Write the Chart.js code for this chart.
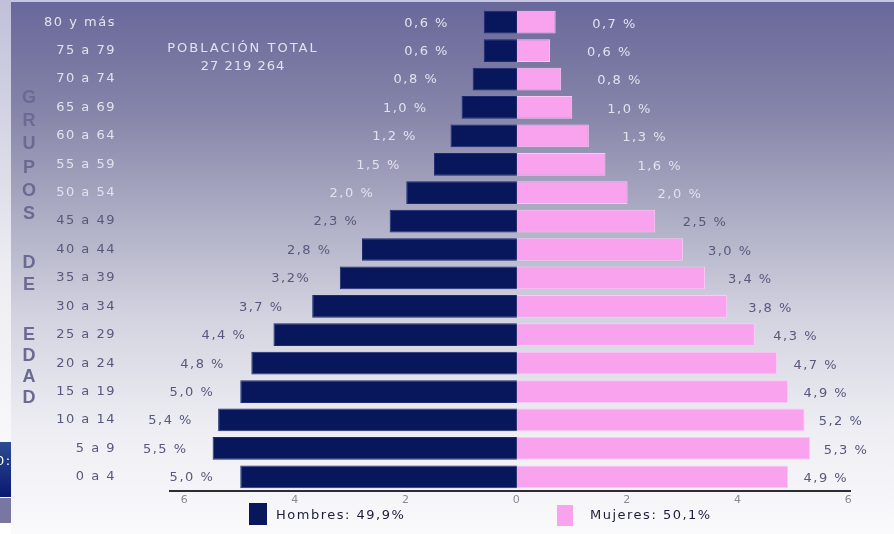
<!DOCTYPE html>
<html>
<head>
<meta charset="utf-8">
<script src="https://cdn.jsdelivr.net/npm/chart.js@4.4.1/dist/chart.umd.min.js"></script>
<style>
  html, body { margin: 0; padding: 0; background: #fff; }
  #wrap { position: relative; width: 894px; height: 534px; }
</style>
</head>
<body>
<div id="wrap"><canvas id="pyramid" width="894" height="534"></canvas></div>
<script>
// age groups, top to bottom
const ageGroups = [
  "80 y más", "75 a 79", "70 a 74", "65 a 69", "60 a 64", "55 a 59",
  "50 a 54", "45 a 49", "40 a 44", "35 a 39", "30 a 34", "25 a 29",
  "20 a 24", "15 a 19", "10 a 14", "5 a 9", "0 a 4"
];
// % of total population
const menValues = [0.6, 0.6, 0.8, 1.0, 1.2, 1.5, 2.0, 2.3, 2.8, 3.2, 3.7, 4.4, 4.8, 5.0, 5.4, 5.5, 5.0];
const womenValues = [0.7, 0.6, 0.8, 1.0, 1.3, 1.6, 2.0, 2.5, 3.0, 3.4, 3.8, 4.3, 4.7, 4.9, 5.2, 5.3, 4.9];
const menLabels = ["0,6 %", "0,6 %", "0,8 %", "1,0 %", "1,2 %", "1,5 %", "2,0 %", "2,3 %", "2,8 %", "3,2%", "3,7 %", "4,4 %", "4,8 %", "5,0 %", "5,4 %", "5,5 %", "5,0 %"];
const womenLabels = ["0,7 %", "0,6 %", "0,8 %", "1,0 %", "1,3 %", "1,6 %", "2,0 %", "2,5 %", "3,0 %", "3,4 %", "3,8 %", "4,3 %", "4,7 %", "4,9 %", "5,2 %", "5,3 %", "4,9 %"];
const xTicks = [-6, -4, -2, 0, 2, 4, 6];
const menLegend = "Hombres: 49,9%";
const womenLegend = "Mujeres: 50,1%";
const totalTitle = "POBLACIÓN TOTAL";
const totalValue = "27 219 264";
const sideTitle = ["GRUPOS", "DE", "EDAD"];

const NAVY = "#08175c";
const PINK = "#f9a3ef";
const LIGHT_TXT = "#e2e2ee";
const DARK_TXT = "#58587c";
const FONT = '"DejaVu Sans", Verdana, sans-serif';

// background, header strip and left strip
const backdrop = {
  id: "backdrop",
  beforeUpdate(chart) { chart.ctx.letterSpacing = "1.5px"; },
  beforeDraw(chart) {
    const { ctx, width, height } = chart;
    ctx.letterSpacing = "1.5px";
    ctx.save();
    const g = ctx.createLinearGradient(0, 0, 0, height);
    g.addColorStop(0, "#68679a");
    g.addColorStop(0.2, "#8483a8");
    g.addColorStop(0.4, "#acacc4");
    g.addColorStop(0.6, "#d4d4e1");
    g.addColorStop(0.8, "#ededf3");
    g.addColorStop(1, "#fafafc");
    ctx.fillStyle = g;
    ctx.fillRect(0, 0, width, height);
    ctx.fillStyle = "#c6c6e2";
    ctx.fillRect(0, 0, width, 2);
    // left page strip
    const s = ctx.createLinearGradient(0, 0, 0, height);
    s.addColorStop(0, "#c0c0da");
    s.addColorStop(0.5, "#ececf2");
    s.addColorStop(1, "#ffffff");
    ctx.fillStyle = s;
    ctx.fillRect(0, 0, 11, height);
    const b = ctx.createLinearGradient(0, 442, 0, 497);
    b.addColorStop(0, "#2c4c94");
    b.addColorStop(1, "#0a1870");
    ctx.fillStyle = b;
    ctx.fillRect(0, 442, 11, 55);
    ctx.fillStyle = "#7a76a2";
    ctx.fillRect(0, 498, 11, 25);
    ctx.fillStyle = "#ffffff";
    ctx.font = "13px " + FONT;
    ctx.textBaseline = "middle";
    ctx.fillText("0:", -4, 462);
    ctx.restore();
  }
};

// value labels at the bar ends
const valueLabels = {
  id: "valueLabels",
  afterDatasetsDraw(chart) {
    const ctx = chart.ctx;
    ctx.save();
    ctx.font = "13px " + FONT;
    ctx.textBaseline = "middle";
    chart.getDatasetMeta(0).data.forEach((bar, i) => {
      ctx.fillStyle = i < 7 ? LIGHT_TXT : DARK_TXT;
      ctx.textAlign = "right";
      ctx.fillText(menLabels[i], bar.x - (36 - 2 * menValues[i]), bar.y + 1);
    });
    chart.getDatasetMeta(1).data.forEach((bar, i) => {
      ctx.fillStyle = i < 7 ? LIGHT_TXT : DARK_TXT;
      ctx.textAlign = "left";
      ctx.fillText(womenLabels[i], bar.x + (40 - 5 * womenValues[i]), bar.y + 2);
    });
    ctx.restore();
  }
};

// total, side title and legend
const annotations = {
  id: "annotations",
  afterDraw(chart) {
    const ctx = chart.ctx;
    ctx.save();
    ctx.textBaseline = "middle";
    ctx.textAlign = "center";
    ctx.fillStyle = LIGHT_TXT;
    ctx.font = "13px " + FONT;
    ctx.letterSpacing = "2px";
    ctx.fillText(totalTitle, 243, 49);
    ctx.letterSpacing = "1px";
    ctx.fillText(totalValue, 243, 67);

    ctx.letterSpacing = "0px";
    ctx.font = 'bold 18px "Liberation Sans", Arial, sans-serif';
    ctx.fillStyle = "#6a6a92";
    const starts = [98, 263, 335], steps = [23.2, 22, 21];
    sideTitle.forEach((word, w) => {
      [...word].forEach((ch, k) => ctx.fillText(ch, 29, starts[w] + k * steps[w]));
    });

    ctx.letterSpacing = "1.5px";
    ctx.font = "13px " + FONT;
    ctx.textAlign = "left";
    ctx.fillStyle = NAVY;
    ctx.fillRect(249, 503, 18, 22);
    ctx.fillStyle = PINK;
    ctx.fillRect(557, 505, 16, 21);
    ctx.fillStyle = "#1c1c3a";
    ctx.fillText(menLegend, 276, 516);
    ctx.fillText(womenLegend, 590, 516);
    ctx.restore();
  }
};

new Chart(document.getElementById("pyramid"), {
  type: "bar",
  data: {
    labels: ageGroups,
    datasets: [
      {
        label: "Hombres",
        data: menValues.map(v => -v),
        backgroundColor: NAVY,
        borderColor: "#1c2a72",
        borderWidth: 1,
        barPercentage: 0.8,
        categoryPercentage: 1.0
      },
      {
        label: "Mujeres",
        data: womenValues,
        backgroundColor: PINK,
        borderColor: "#fcc8f6",
        borderWidth: 1,
        barPercentage: 0.8,
        categoryPercentage: 1.0
      }
    ]
  },
  options: {
    indexAxis: "y",
    responsive: false,
    animation: false,
    events: [],
    layout: { padding: { top: 8, right: 44, left: 0, bottom: 0 } },
    plugins: { legend: { display: false }, tooltip: { enabled: false } },
    scales: {
      x: {
        stacked: true,
        min: -6.27,
        max: 6.02,
        afterBuildTicks: axis => { axis.ticks = xTicks.map(v => ({ value: v })); },
        afterFit: axis => {
          axis.height = 43;
          axis.paddingLeft = 0;
          axis.paddingRight = 0;
        },
        grid: { display: false, drawTicks: false },
        border: { display: true, color: "#2c2c34", width: 2 },
        ticks: {
          callback: v => Math.abs(v),
          color: "#8a8a90",
          padding: 3,
          font: { family: FONT, size: 11 }
        }
      },
      y: {
        stacked: true,
        afterFit: axis => {
          axis.width = 170;
          axis.paddingTop = 0;
          axis.paddingBottom = 0;
        },
        grid: { display: false, drawTicks: false },
        border: { display: false },
        ticks: {
          padding: 54,
          autoSkip: false,
          color: c => (c.index < 7 ? LIGHT_TXT : DARK_TXT),
          font: { family: FONT, size: 13 }
        }
      }
    }
  },
  plugins: [backdrop, valueLabels, annotations]
});
</script>
</body>
</html>
